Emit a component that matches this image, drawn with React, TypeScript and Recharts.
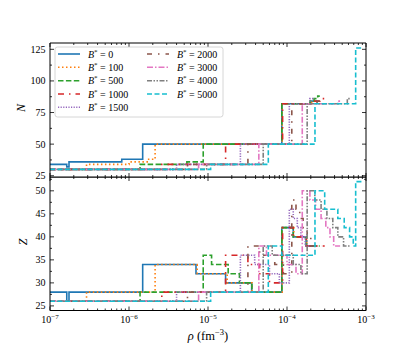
import React from 'react';
import { LineChart, Line, XAxis, YAxis } from 'recharts';

const FONT = "'Liberation Serif', 'DejaVu Serif', serif";

// ---- data ----
const bLabels = ['0', '100', '500', '1000', '1500', '2000', '3000', '4000', '5000'];
const colors = ['#1f77b4', '#ff7f0e', '#2ca02c', '#d62728', '#9467bd', '#8c564b', '#e377c2', '#7f7f7f', '#17becf'];
const dashes = ['', '1.5 2.5', '5.5 2.4', '6 5 1.5 5', '1.2 1.4', '5 6 1.5 6', '6 2 1.5 2', '5 1.5 1.5 1.5 1.5 1.5', '5 2.5'];

const rho0 = [1e-7, 1.63e-7, 1.74e-7, 8.1e-7, 1.49e-6, 7.05e-6, 1.67e-5, 3.57e-5, 8.6e-5, 1.2e-4, 1.75e-4, 2.0e-4, 2.4e-4];
const n0 = [34, 32, 36, 38, 50, 50, 50, 50, 82, 82, 82, 84];
const z0 = [28, 26, 28, 28, 34, 32, 30, 28, 42, 40, 38, 38];

const rho1 = [1e-7, 2.9e-7, 1.0e-6, 1.7e-6, 2.14e-6, 7.3e-6, 1.75e-5, 3.6e-5, 8.7e-5, 1.22e-4, 1.78e-4, 2.05e-4, 2.45e-4];
const n1 = [30, 34, 36, 38, 50, 50, 50, 50, 82, 82, 82, 84];
const z1 = [26, 28, 28, 28, 34, 32, 30, 28, 42, 40, 38, 38];

const rho2 = [1e-7, 1.38e-6, 5.4e-6, 8.7e-6, 1.11e-5, 1.8e-5, 2.5e-5, 3.6e-5, 8.6e-5, 1.2e-4, 1.75e-4, 1.95e-4, 2.2e-4, 2.45e-4, 2.6e-4];
const n2 = [30, 34, 36, 50, 50, 50, 50, 50, 82, 82, 82, 84, 86, 88];
const z2 = [26, 28, 28, 36, 34, 32, 30, 28, 42, 40, 38, 38, 38, 38];

const rho3 = [1e-7, 2.6e-6, 1.67e-5, 3.2e-5, 4.5e-5, 6.0e-5, 8.8e-5, 1.2e-4, 1.75e-4, 2.1e-4, 2.6e-4, 3.0e-4];
const n3 = [30, 34, 50, 50, 50, 50, 82, 82, 82, 84, 86];
const z3 = [26, 28, 36, 34, 32, 30, 42, 40, 38, 38, 38];

const rho4 = [1e-7, 4.0e-6, 2.57e-5, 3.9e-5, 6.0e-5, 8.0e-5, 1.07e-4, 1.2e-4, 1.35e-4, 1.5e-4, 1.7e-4, 1.95e-4, 2.25e-4];
const n4 = [30, 34, 50, 50, 50, 50, 82, 82, 82, 82, 82, 86];
const z4 = [26, 28, 36, 34, 32, 30, 46, 44, 42, 40, 38, 38];

const rho5 = [1e-7, 5.5e-6, 3.2e-5, 4.5e-5, 7.0e-5, 9.0e-5, 1.15e-4, 1.3e-4, 1.45e-4, 1.6e-4, 1.8e-4, 2.0e-4, 2.4e-4, 2.7e-4];
const n5 = [30, 34, 50, 50, 50, 50, 82, 82, 82, 82, 82, 82, 84];
const z5 = [26, 28, 38, 36, 34, 32, 48, 46, 44, 42, 40, 38, 38];

const rho6 = [1e-7, 7.6e-6, 4.4e-5, 5.5e-5, 1.0e-4, 1.3e-4, 1.56e-4, 1.95e-4, 2.3e-4, 2.7e-4, 3.1e-4, 3.5e-4, 3.9e-4, 4.4e-4, 4.7e-4];
const n6 = [30, 34, 50, 50, 50, 50, 82, 82, 82, 82, 82, 82, 82, 84];
const z6 = [26, 28, 38, 36, 34, 32, 50, 48, 46, 44, 42, 40, 38, 38];

const rho7 = [1e-7, 9.6e-6, 5.0e-5, 6.5e-5, 1.2e-4, 1.5e-4, 1.8e-4, 2.25e-4, 2.7e-4, 3.2e-4, 3.8e-4, 4.4e-4, 5.2e-4, 5.8e-4, 6.3e-4];
const n7 = [30, 34, 50, 50, 50, 50, 82, 82, 82, 82, 82, 82, 82, 86];
const z7 = [26, 28, 38, 36, 34, 32, 50, 48, 46, 44, 42, 40, 38, 38];

const rho8 = [1e-7, 1.08e-5, 5.8e-5, 8.6e-5, 2.26e-4, 3.0e-4, 4.4e-4, 5.3e-4, 6.2e-4, 6.9e-4, 7.4e-4, 9.1e-4];
const n8 = [30, 34, 50, 50, 82, 82, 82, 82, 82, 82, 126];
const z8 = [26, 28, 38, 36, 50, 46, 44, 42, 40, 38, 52];

const rhoList = [rho0, rho1, rho2, rho3, rho4, rho5, rho6, rho7, rho8];
const nList = [n0, n1, n2, n3, n4, n5, n6, n7, n8];
const zList = [z0, z1, z2, z3, z4, z5, z6, z7, z8];

// ---- ticks ----
const xMajor = [1e-7, 1e-6, 1e-5, 1e-4, 1e-3];
const xExpLabels = ['−7', '−6', '−5', '−4', '−3'];
const mantissas = [2, 3, 4, 5, 6, 7, 8, 9];
const xTicks = [...xMajor, ...xMajor.slice(0, 4).flatMap((d) => mantissas.map((m) => m * d))].sort((a, b) => a - b);
const nTicks = [25, 37.5, 50, 62.5, 75, 87.5, 100, 112.5, 125];
const nMajor = [25, 50, 75, 100, 125];
const zTicks = [25, 27.5, 30, 32.5, 35, 37.5, 40, 42.5, 45, 47.5, 50, 52.5];
const zMajor = [25, 30, 35, 40, 45, 50];

const nDomain = [24, 130];
const zDomain = [24, 53];
const xDomain = [1e-7, 1e-3];

const THIN = 0.01; // near-zero axis size so the axis still renders

function steps(rho: number[], v: number[]) {
  return rho.map((r, i) => ({ rho: r, v: v[Math.min(i, v.length - 1)] }));
}

const majorIdx = (v: number) => xMajor.findIndex((m) => Math.abs(Math.log10(v) - Math.log10(m)) < 1e-6);

const XTick = (props: any) => {
  const { x, y, payload, dir, label } = props;
  const idx = majorIdx(payload.value);
  const len = idx >= 0 ? 4 : 2;
  return (
    <g>
      <line x1={x} y1={y} x2={x} y2={y + dir * len} stroke="#000" strokeWidth={0.8} />
      {label && idx >= 0 && (
        <text x={x} y={y + 12.5} textAnchor="middle" fontFamily={FONT} fontSize={10} fill="#000">
          10<tspan dy={-4.5} fontSize={7}>{xExpLabels[idx]}</tspan>
        </text>
      )}
    </g>
  );
};

const YTick = (props: any) => {
  const { x, y, payload, dir, label, majors } = props;
  const major = majors.includes(payload.value);
  const len = major ? 4 : 2;
  return (
    <g>
      <line x1={x} y1={y} x2={x + dir * len} y2={y} stroke="#000" strokeWidth={0.8} />
      {label && major && (
        <text x={x - 4.5} y={y + 3.5} textAnchor="end" fontFamily={FONT} fontSize={10} fill="#000">
          {payload.value}
        </text>
      )}
    </g>
  );
};

const axisLine = { stroke: '#000', strokeWidth: 1 };

function Panel({ lists, domain, ticks, majors, height, margin, bottomAxisHeight, showXLabels }: any) {
  return (
    <LineChart width={407} height={height} margin={margin}>
      <XAxis xAxisId="b" dataKey="rho" type="number" scale="log" domain={xDomain} allowDataOverflow
        ticks={xTicks} interval={0} height={bottomAxisHeight} tickSize={0} tickMargin={0} tickLine={false}
        axisLine={axisLine} tick={(p: any) => <XTick {...p} dir={-1} label={showXLabels} />} />
      <XAxis xAxisId="t" orientation="top" dataKey="rho" type="number" scale="log" domain={xDomain} allowDataOverflow
        ticks={xTicks} interval={0} height={THIN} tickSize={0} tickMargin={0} tickLine={false}
        axisLine={axisLine} tick={(p: any) => <XTick {...p} dir={1} label={false} />} />
      <YAxis yAxisId="l" type="number" domain={domain} allowDataOverflow ticks={ticks} interval={0}
        width={50} tickSize={0} tickMargin={0} tickLine={false} axisLine={axisLine}
        tick={(p: any) => <YTick {...p} dir={1} label majors={majors} />} />
      <YAxis yAxisId="r" orientation="right" type="number" domain={domain} allowDataOverflow ticks={ticks} interval={0}
        width={THIN} tickSize={0} tickMargin={0} tickLine={false} axisLine={axisLine}
        tick={(p: any) => <YTick {...p} dir={-1} label={false} majors={majors} />} />
      <Line xAxisId="t" yAxisId="r" data={steps(rhoList[0], lists[0])} dataKey="v" type="stepAfter"
        stroke="none" strokeOpacity={0} dot={false} activeDot={false} isAnimationActive={false} legendType="none" />
      {rhoList.map((rho, i) => (
        <Line key={i} xAxisId="b" yAxisId="l" data={steps(rho, lists[i])} dataKey="v" type="stepAfter"
          stroke={colors[i]} strokeWidth={1.6} strokeDasharray={dashes[i] || undefined} strokeLinecap="butt"
          dot={false} activeDot={false} isAnimationActive={false} />
      ))}
    </LineChart>
  );
}

function LegendBox() {
  const rowsY = [54, 67.3, 80.7, 94, 107.3];
  const cols = [
    { sx: 58, tx: 88 },
    { sx: 147, tx: 177 },
  ];
  return (
    <g>
      <rect x={55} y={47} width={168} height={70} rx={2.5} fill="#fff" fillOpacity={0.8} stroke="#cccccc" strokeWidth={0.8} />
      {bLabels.map((b, i) => {
        const c = cols[i < 5 ? 0 : 1];
        const y = rowsY[i < 5 ? i : i - 5];
        return (
          <g key={b}>
            <line x1={c.sx} x2={c.sx + 22} y1={y} y2={y} stroke={colors[i]} strokeWidth={1.6}
              strokeDasharray={dashes[i] || undefined} />
            <text x={c.tx} y={y + 3.5} fontFamily={FONT} fontSize={10} fill="#000">
              <tspan fontStyle="italic">B</tspan>
              <tspan dy={-4} fontSize={7}>*</tspan>
              <tspan dy={4}>{' = ' + b}</tspan>
            </text>
          </g>
        );
      })}
    </g>
  );
}

export default function App() {
  return (
    <div style={{ position: 'absolute', left: 0, top: 0, width: 407, height: 349, background: '#fff' }}>
      <div style={{ position: 'absolute', left: 0, top: 0 }}>
        <Panel lists={nList} domain={nDomain} ticks={nTicks} majors={nMajor} height={186}
          margin={{ top: 43 - THIN, right: 41 - THIN, bottom: 9 - THIN, left: 0 }} bottomAxisHeight={THIN} showXLabels={false} />
      </div>
      <div style={{ position: 'absolute', left: 0, top: 177 }}>
        <Panel lists={zList} domain={zDomain} ticks={zTicks} majors={zMajor} height={172}
          margin={{ top: 0, right: 41 - THIN, bottom: 0, left: 0 }} bottomAxisHeight={38.5} showXLabels />
      </div>
      <svg width={407} height={349} style={{ position: 'absolute', left: 0, top: 0, pointerEvents: 'none' }}>
        <LegendBox />
        <text x={25} y={108} transform="rotate(-90 25 108)" textAnchor="middle" fontFamily={FONT} fontStyle="italic" fontSize={12} fill="#000">N</text>
        <text x={27} y={242} transform="rotate(-90 27 242)" textAnchor="middle" fontFamily={FONT} fontStyle="italic" fontSize={12} fill="#000">Z</text>
        <text x={208} y={340} textAnchor="middle" fontFamily={FONT} fontSize={12.5} fill="#000">
          <tspan fontStyle="italic">ρ</tspan>
          <tspan>{' (fm'}</tspan>
          <tspan dy={-5} fontSize={8.5}>−3</tspan>
          <tspan dy={5}>)</tspan>
        </text>
      </svg>
    </div>
  );
}
